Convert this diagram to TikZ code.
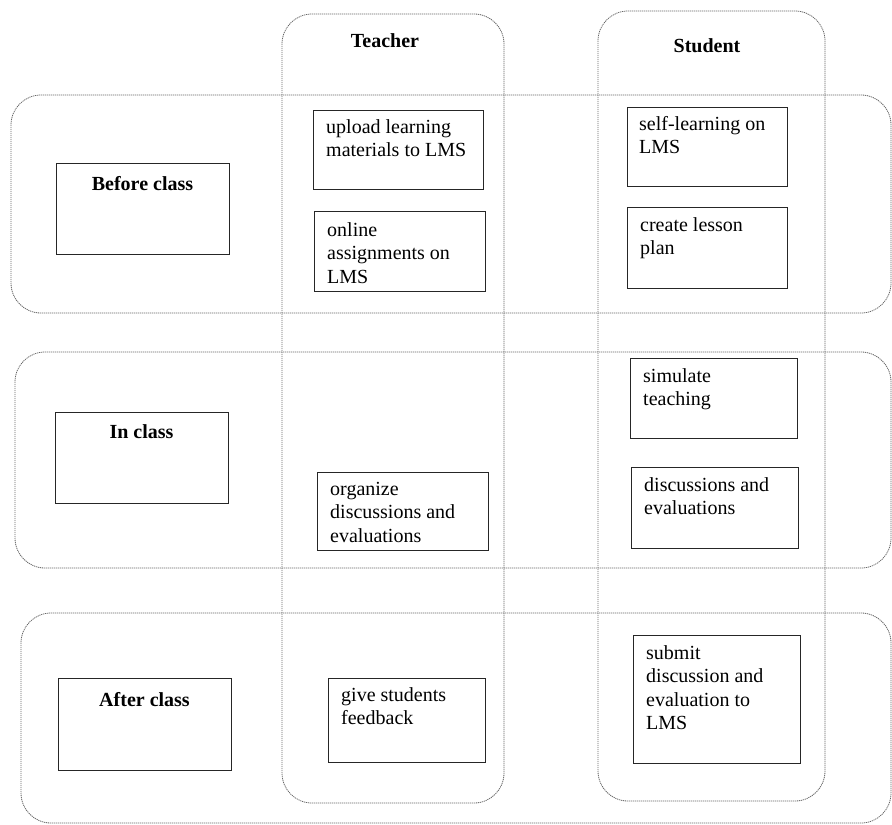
\documentclass[tikz,border=0pt]{standalone}
\usepackage{fontspec}
\setmainfont{Liberation Serif}
\begin{document}
\begin{tikzpicture}[x=1pt,y=-1pt,
  lane/.style={draw=black!60, line width=0.8pt, dash pattern=on 1.2pt off 0.8pt, rounded corners=30pt},
  cell/.style={draw=black!85, line width=1.3pt, rectangle, inner sep=0pt},
  celltext/.style={anchor=north west, align=left, inner sep=0pt, font=\fontsize{20}{23.5}\selectfont},
  headtext/.style={anchor=base, inner sep=0pt, font=\fontsize{20}{23.5}\selectfont\bfseries}]
\useasboundingbox (0,0) rectangle (892,825);
% columns
\draw[lane] (282,14) rectangle (504,803);
\draw[lane] (598,11) rectangle (825,801);
% rows
\draw[lane] (11,95) rectangle (891,313);
\draw[lane] (15,352) rectangle (891,568);
\draw[lane] (21,613) rectangle (891,823);
% column headers
\node[headtext] (hT) at (385,47) {Teacher};
\node[headtext] (hS) at (707,52) {Student};
% row label boxes
\node[cell, minimum width=173pt, minimum height=91pt, anchor=north west] (bc) at (56,163) {};
\node[headtext] (bct) at (142.5,190) {Before class};
\node[cell, minimum width=173pt, minimum height=91pt, anchor=north west] (ic) at (55,412) {};
\node[headtext] (ict) at (141.5,438) {In class};
\node[cell, minimum width=173pt, minimum height=92pt, anchor=north west] (ac) at (58,678) {};
\node[headtext] (act) at (144.5,706) {After class};
% teacher boxes
\node[cell, minimum width=170pt, minimum height=79pt, anchor=north west] (t1) at (313,110) {};
\node[celltext] (t1t) at (326,119) {upload learning\\materials to LMS};
\node[cell, minimum width=171pt, minimum height=80pt, anchor=north west] (t2) at (314,211) {};
\node[celltext] (t2t) at (327,222) {online\\assignments on\\LMS};
\node[cell, minimum width=171pt, minimum height=78pt, anchor=north west] (t3) at (317,472) {};
\node[celltext] (t3t) at (330,482) {organize\\discussions and\\evaluations};
\node[cell, minimum width=157pt, minimum height=84pt, anchor=north west] (t4) at (328,678) {};
\node[celltext] (t4t) at (341,687) {give students\\feedback};
% student boxes
\node[cell, minimum width=160pt, minimum height=79pt, anchor=north west] (s1) at (627,107) {};
\node[celltext] (s1t) at (639,116) {self-learning on\\LMS};
\node[cell, minimum width=160pt, minimum height=81pt, anchor=north west] (s2) at (627,207) {};
\node[celltext] (s2t) at (640,217) {create lesson\\plan};
\node[cell, minimum width=167pt, minimum height=80pt, anchor=north west] (s3) at (630,358) {};
\node[celltext] (s3t) at (643,368) {simulate\\teaching};
\node[cell, minimum width=167pt, minimum height=81pt, anchor=north west] (s4) at (631,467) {};
\node[celltext] (s4t) at (644,477) {discussions and\\evaluations};
\node[cell, minimum width=167pt, minimum height=128pt, anchor=north west] (s5) at (633,635) {};
\node[celltext] (s5t) at (646,645) {submit\\discussion and\\evaluation to\\LMS};
\end{tikzpicture}
\end{document}
